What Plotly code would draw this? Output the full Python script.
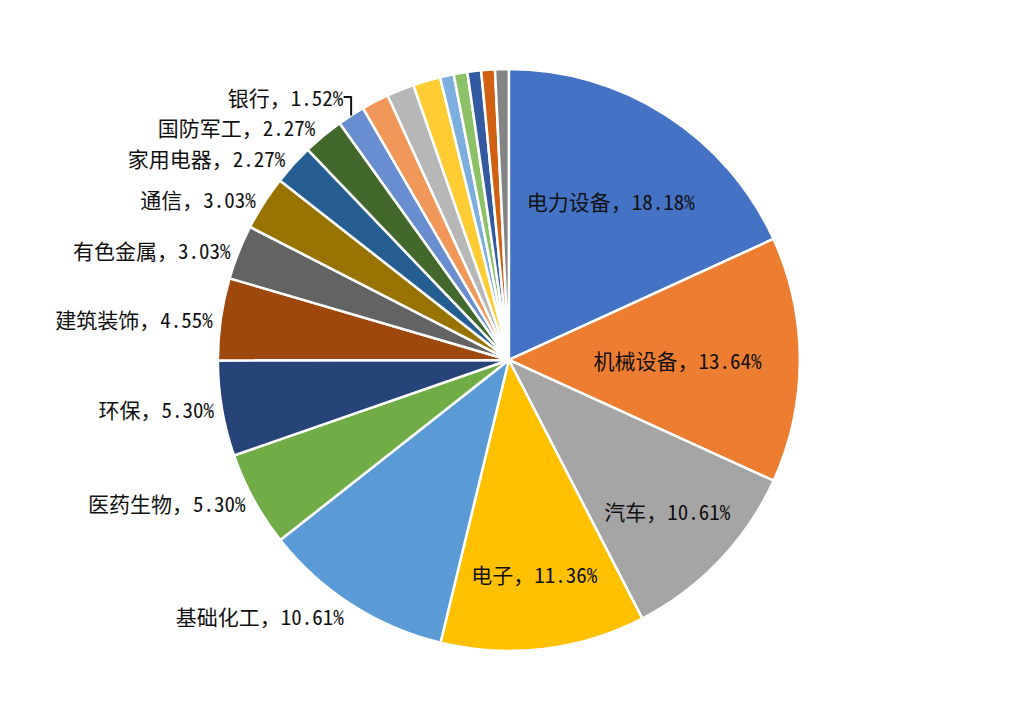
import plotly.graph_objects as go

industries = ["电力设备", "机械设备", "汽车", "电子", "基础化工", "医药生物", "环保",
              "建筑装饰", "有色金属", "通信", "家用电器", "国防军工", "银行",
              "其他1", "其他2", "其他3", "其他4", "其他5", "其他6", "其他7", "其他8"]
shares = [18.18, 13.64, 10.61, 11.36, 10.61, 5.30, 5.30,
          4.55, 3.03, 3.03, 2.27, 2.27, 1.52,
          1.52, 1.52, 1.52, 0.76, 0.76, 0.76, 0.76, 0.76]
show_label = [True] * 13 + [False] * 8
inside = [True, True, True, True] + [False] * 17

colors = ["#4472C4", "#ED7D31", "#A5A5A5", "#FFC000", "#5B9BD5", "#70AD47", "#264478",
          "#9E480E", "#636363", "#997300", "#255E91", "#43682B", "#698ED0",
          "#F1975A", "#B7B7B7", "#FFCD33", "#7CAFDD", "#8CC168", "#335AA1", "#D26012", "#848484"]

templates = ["%{label}，%{value:.2f}%" if s else "" for s in show_label]
positions = ["inside" if i else "outside" for i in inside]

font = "Noto Sans Mono CJK SC, Noto Sans CJK SC"
fig = go.Figure(go.Pie(
    labels=industries,
    values=shares,
    sort=False,
    direction="clockwise",
    rotation=0,
    marker=dict(colors=colors, line=dict(color="white", width=2.5)),
    texttemplate=templates,
    textposition=positions,
    insidetextorientation="horizontal",
    textfont=dict(family=font, size=21, color="#111111"),
    showlegend=False,
    hoverinfo="label+value",
    domain=dict(x=[0.192, 0.792], y=[0.107, 0.9153]),
))
fig.update_layout(
    width=1018, height=720,
    margin=dict(l=0, r=0, t=0, b=0),
    paper_bgcolor="white",
    plot_bgcolor="white",
    uniformtext=dict(minsize=21, mode="show"),
    font=dict(family=font),
)
fig.write_html("out.html")
